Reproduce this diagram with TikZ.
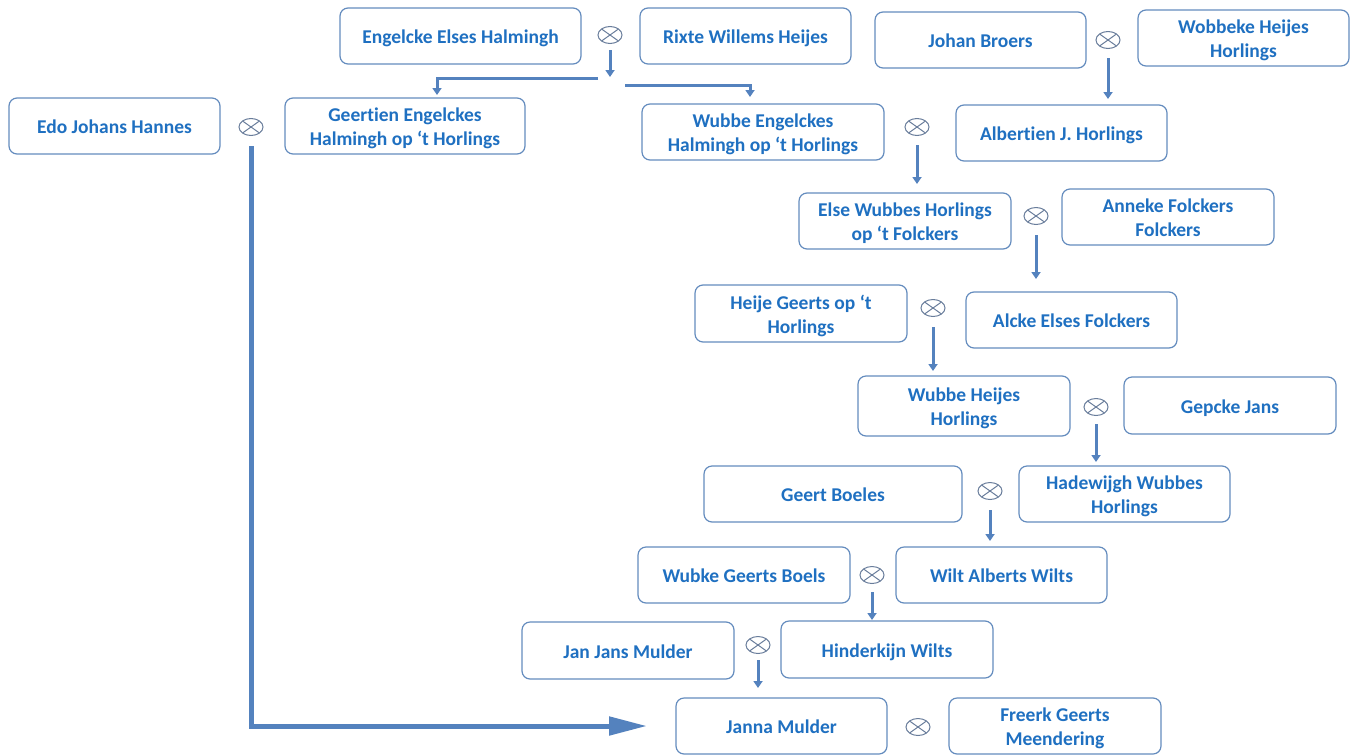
\documentclass[tikz,border=0pt]{standalone}
\usepackage{fontspec}
\setmainfont{Carlito}[Ligatures=NoCommon]
\usetikzlibrary{arrows.meta,shapes.geometric}
\definecolor{txtblue}{RGB}{31,112,193}
\definecolor{boxblue}{RGB}{100,140,190}
\definecolor{arrblue}{RGB}{84,130,190}
\definecolor{ringgray}{RGB}{105,125,155}
\newcommand\pbox[6]{\node[pbox,minimum width={(#4-#2)*1pt},minimum height={(#5-#3)*1pt}] (#1) at ({(#2+#4)/2},{(#3+#5)/2}) {\raisebox{-3pt}[\height][\depth]{\begin{tabular}{@{}c@{}}#6\end{tabular}}};}
\newcommand\marr[3]{\node[marriage] (#1) at (#2,#3) {};}
\begin{document}
\begin{tikzpicture}[x=1pt,y=-1pt,
  pbox/.style={draw=boxblue,line width=1.2pt,rounded corners=8pt,fill=white,
    inner sep=0pt,outer sep=0pt,align=center,text=txtblue,
    font=\fontsize{19.5}{24}\selectfont\bfseries},
  marriage/.style={ellipse,draw=ringgray,line width=1pt,minimum width=24pt,minimum height=17pt,inner sep=0pt,
    path picture={\draw[ringgray,line width=1pt] (path picture bounding box.north west)--(path picture bounding box.south east)
      (path picture bounding box.north east)--(path picture bounding box.south west);}},
  thinarr/.style={draw=arrblue,line width=3pt,-{Triangle[length=7pt,width=9pt]}},
  thickarr/.style={draw=arrblue,line width=5pt,-{Triangle[length=38pt,width=18pt]}}
]
\useasboundingbox (0,0) rectangle (1359,755);
\pbox{engelcke}{340}{8}{581}{64}{Engelcke Elses Halmingh}
\marr{m1}{610}{35}
\pbox{rixte}{640}{8}{851}{64}{Rixte Willems Heijes}
\pbox{johan}{875}{12}{1086}{68}{Johan Broers}
\marr{m2}{1108}{40}
\pbox{wobbeke}{1138}{10}{1349}{66}{Wobbeke Heijes\\Horlings}
\pbox{edo}{9}{98}{220}{154}{Edo Johans Hannes}
\marr{m0}{251}{127}
\pbox{geertien}{285}{98}{525}{154}{Geertien Engelckes\\Halmingh op ‘t Horlings}
\pbox{wubbeE}{642}{104}{884}{160}{Wubbe Engelckes\\Halmingh op ‘t Horlings}
\marr{m3}{917}{127}
\pbox{albertien}{956}{105}{1167}{161}{Albertien J. Horlings}
\pbox{else}{799}{193}{1011}{249}{Else Wubbes Horlings\\op ‘t Folckers}
\marr{m4}{1036}{216}
\pbox{anneke}{1062}{189}{1274}{245}{Anneke Folckers\\Folckers}
\pbox{heije}{695}{285}{907}{342}{Heije Geerts op ‘t\\Horlings}
\marr{m5}{933}{308}
\pbox{alcke}{966}{292}{1177}{348}{Alcke Elses Folckers}
\pbox{wubbeH}{858}{376}{1070}{436}{Wubbe Heijes\\Horlings}
\marr{m6}{1096}{407}
\pbox{gepcke}{1124}{377}{1336}{434}{Gepcke Jans}
\pbox{geert}{704}{466}{962}{522}{Geert Boeles}
\marr{m7}{990}{491}
\pbox{hadewijgh}{1019}{466}{1230}{522}{Hadewijgh Wubbes\\Horlings}
\pbox{wubke}{638}{547}{850}{603}{Wubke Geerts Boels}
\marr{m8}{872}{575}
\pbox{wilt}{896}{547}{1107}{603}{Wilt Alberts Wilts}
\pbox{jan}{522}{622}{734}{679}{Jan Jans Mulder}
\marr{m9}{758}{645}
\pbox{hinderkijn}{781}{621}{993}{678}{Hinderkijn Wilts}
\pbox{janna}{676}{698}{887}{754}{Janna Mulder}
\marr{m10}{918}{727}
\pbox{freerk}{949}{698}{1161}{754}{Freerk Geerts\\Meendering}
% top branching
\coordinate (bl) at (598,78);
\coordinate (br) at (625,85);
\draw[thinarr,shorten <=6pt] (m1.south) -- ++(0,33);
\draw[thinarr,shorten >=3pt] (bl) -| (geertien.north -| 437,0);
\draw[thinarr,shorten >=7pt] (br) -| (wubbeE.north -| 750,0);
% vertical descents
\draw[thinarr,shorten <=9pt,shorten >=6pt] (m2.south) -- (m2.south |- albertien.north);
\draw[thinarr,shorten <=9pt,shorten >=9pt] (m3.south) -- (m3.south |- else.north);
\draw[thinarr,shorten <=10pt,shorten >=13pt] (m4.south) -- (m4.south |- alcke.north);
\draw[thinarr,shorten <=10pt,shorten >=5pt] (m5.south) -- (m5.south |- wubbeH.north);
\draw[thinarr,shorten <=8pt,shorten >=4pt] (m6.south) -- (m6.south |- hadewijgh.north);
\draw[thinarr,shorten <=10pt,shorten >=6pt] (m7.south) -- (m7.south |- wilt.north);
\draw[thinarr,shorten <=8pt,shorten >=1pt] (m8.south) -- (m8.south |- hinderkijn.north);
\draw[thinarr,shorten <=6pt,shorten >=10pt] (m9.south) -- (m9.south |- janna.north);
% Edo to Janna
\draw[thickarr,shorten <=10pt,shorten >=29pt] (m0.south) |- (janna.west);
\end{tikzpicture}
\end{document}
